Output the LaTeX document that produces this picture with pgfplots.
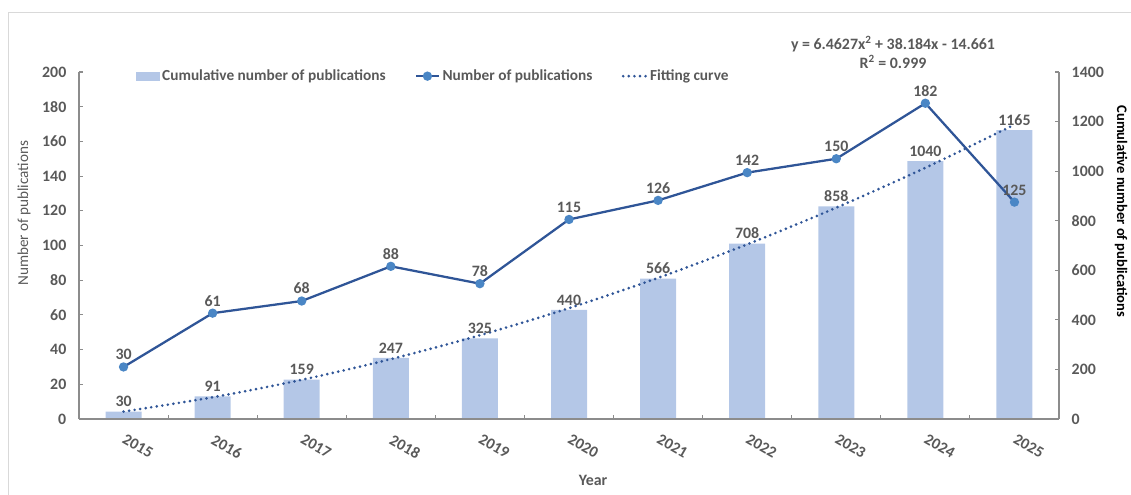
\documentclass[border=0pt]{standalone}
\usepackage{pgfplots}
\pgfplotsset{compat=1.18}
\usepackage{fontspec}
\setmainfont{Carlito}
\definecolor{txt}{HTML}{595959}
\definecolor{axg}{HTML}{8C8C8C}
\definecolor{barc}{HTML}{B4C7E7}
\definecolor{linec}{HTML}{2F5597}
\definecolor{markc}{HTML}{4A86C5}
\definecolor{framec}{HTML}{D9D9D9}
\pgfplotstableread{
idx year num cum fit
0 2015 30 30 29.99
1 2016 61 91 87.57
2 2017 68 159 158.07
3 2018 88 247 241.50
4 2019 78 325 337.86
5 2020 115 440 447.15
6 2021 126 566 569.37
7 2022 142 708 704.51
8 2023 150 858 852.58
9 2024 182 1040 1013.58
10 2025 125 1165 1187.51
}\datatable
\newcommand{\lblfont}{\fontsize{11.9}{14}\selectfont\bfseries}
\begin{document}
\begin{tikzpicture}[x=1pt,y=1pt]
\path[use as bounding box] (0,0) rectangle (848.25pt,371.25pt);
\draw[framec, line width=0.75pt] (6pt,0) -- (6pt,361.5pt) -- (848.25pt,361.5pt);
\pgfplotsset{
  common/.style={
    scale only axis,
    width=735pt, height=260.25pt,
    at={(59.25pt,57pt)}, anchor=south west,
    xmin=-0.5, xmax=10.5,
    axis line style={axg, line width=0.8pt},
    tick style={axg, line width=0.8pt},
    major tick length=3pt,
    tick align=inside,
    font=\lblfont,
    every tick label/.append style={txt},
    /pgf/number format/assume math mode=true,
    /pgf/number format/1000 sep={},
    clip=false,
  }
}
% right axis: bars + fit
\begin{axis}[common,
  axis x line=none,
  axis y line*=right,
  ymin=0, ymax=1400,
  ytick={0,200,...,1400},
  yticklabel style={xshift=6pt},
  ylabel={Cumulative number of publications},
  ylabel style={at={(axis description cs:1.0633,0.598)}, anchor=center, rotate=180, black, font=\fontsize{10.9}{13}\selectfont\bfseries},
  legend style={at={(axis description cs:0.362,0.988)}, anchor=center, draw=none, fill=none,
     legend columns=3, text=txt, font=\fontsize{11.5}{14}\selectfont\bfseries,
     /tikz/every even column/.append style={column sep=20pt}},
  legend cell align=left,
]
\addlegendimage{area legend, fill=barc, draw=barc}
\addlegendentry{Cumulative number of publications}
\addlegendimage{linec, line width=1.7pt, mark=*, mark size=2.6pt, mark options={fill=markc, draw=markc}}
\addlegendentry{Number of publications}
\addlegendimage{linec, line width=2.2pt, line cap=round, dash pattern=on 0pt off 4.2pt}
\addlegendentry{Fitting curve}
\addplot[ybar, bar width=27pt, fill=barc, draw=none,
  nodes near coords,
  every node near coord/.append style={txt, font=\lblfont, yshift=0pt}]
  table[x=idx, y=cum] {\datatable};
\addplot[linec, line width=2.2pt, line cap=round, dash pattern=on 0pt off 4.2pt, smooth]
  table[x=idx, y=fit] {\datatable};
\node[txt, align=center, font=\lblfont] at (axis description cs:0.8306,1.056)
  {y = 6.4627x\textsuperscript{2} + 38.184x - 14.661\\R\textsuperscript{2} = 0.999};
\end{axis}
% left axis: line
\begin{axis}[common,
  axis x line*=bottom,
  axis y line*=left,
  ymin=0, ymax=200,
  ytick={0,20,...,200},
  yticklabel style={xshift=-6pt},
  xtick={0,...,10},
  xticklabels={2015,2016,2017,2018,2019,2020,2021,2022,2023,2024,2025},
  major x tick style={draw=none},
  minor xtick={0.5,1.5,...,9.5},
  minor x tick style={axg, line width=0.8pt},
  minor tick length=3pt,
  xticklabel style={rotate=-30, anchor=north west, xshift=4pt, yshift=-5pt},
  ylabel={Number of publications},
  ylabel style={at={(axis description cs:-0.0561,0.593)}, anchor=center, txt, font=\fontsize{11.4}{14}\selectfont},
  xlabel={Year},
  xlabel style={at={(axis description cs:0.5245,-0.1758)}, anchor=center, txt, font=\lblfont},
]
\addplot[linec, line width=1.7pt, mark=*, mark size=2.6pt, mark options={fill=markc, draw=markc},
  nodes near coords,
  every node near coord/.append style={txt, font=\lblfont, yshift=1pt}]
  table[x=idx, y=num] {\datatable};
\end{axis}
\end{tikzpicture}
\end{document}
